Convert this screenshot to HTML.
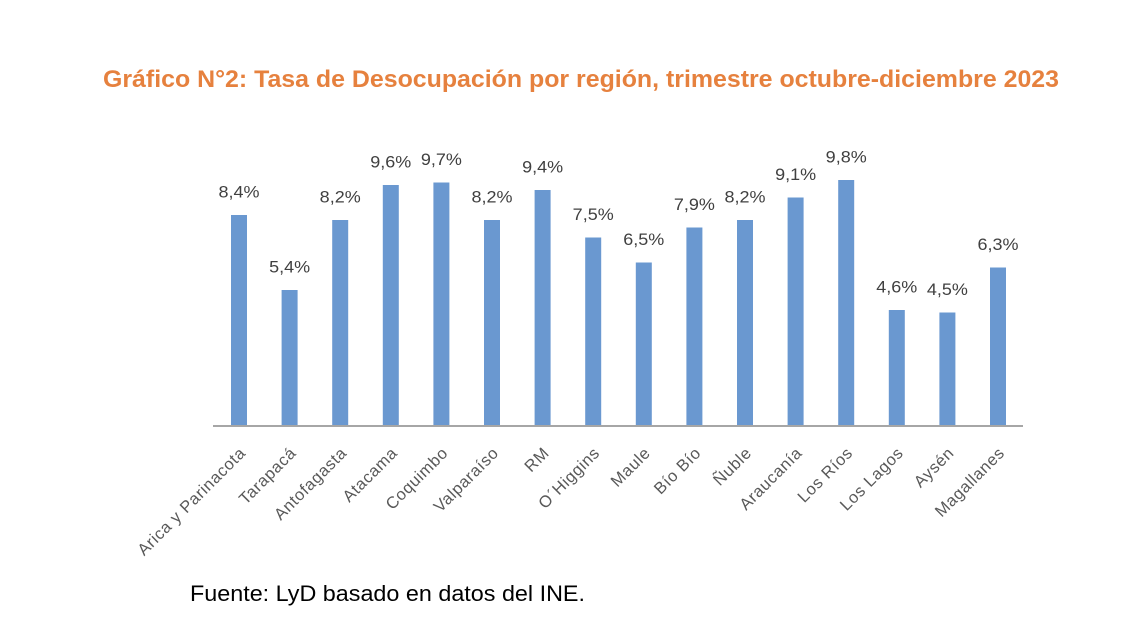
<!DOCTYPE html>
<html>
<head>
<meta charset="utf-8">
<style>
html,body{margin:0;padding:0;background:#fff;}
svg{display:block;}
</style>
</head>
<body>
<svg width="1146" height="622" viewBox="0 0 1146 622" xmlns="http://www.w3.org/2000/svg">
<rect width="1146" height="622" fill="#ffffff"/>
<text x="103" y="87" font-family="Liberation Sans, sans-serif" font-weight="bold" font-size="24" fill="#E6813E" textLength="956" lengthAdjust="spacingAndGlyphs">Gráfico N°2: Tasa de Desocupación por región, trimestre octubre-diciembre 2023</text>

<g fill="#6A98D0">
<rect x="231" y="215" width="16" height="210"/>
<rect x="281.6" y="290" width="16" height="135"/>
<rect x="332.2" y="220" width="16" height="205"/>
<rect x="382.8" y="185" width="16" height="240"/>
<rect x="433.4" y="182.5" width="16" height="242.5"/>
<rect x="484" y="220" width="16" height="205"/>
<rect x="534.6" y="190" width="16" height="235"/>
<rect x="585.2" y="237.5" width="16" height="187.5"/>
<rect x="635.8" y="262.5" width="16" height="162.5"/>
<rect x="686.4" y="227.5" width="16" height="197.5"/>
<rect x="737" y="220" width="16" height="205"/>
<rect x="787.6" y="197.5" width="16" height="227.5"/>
<rect x="838.2" y="180" width="16" height="245"/>
<rect x="888.8" y="310" width="16" height="115"/>
<rect x="939.4" y="312.5" width="16" height="112.5"/>
<rect x="990" y="267.5" width="16" height="157.5"/>
</g>

<rect x="213" y="425" width="810" height="2" fill="#A6A6A6"/>

<g font-family="Liberation Sans, sans-serif" font-size="16.5" fill="#404040" text-anchor="middle">
<text x="239" y="197.5" textLength="41" lengthAdjust="spacingAndGlyphs">8,4%</text>
<text x="289.6" y="272.5" textLength="41" lengthAdjust="spacingAndGlyphs">5,4%</text>
<text x="340.2" y="202.5" textLength="41" lengthAdjust="spacingAndGlyphs">8,2%</text>
<text x="390.8" y="167.5" textLength="41" lengthAdjust="spacingAndGlyphs">9,6%</text>
<text x="441.4" y="165" textLength="41" lengthAdjust="spacingAndGlyphs">9,7%</text>
<text x="492" y="202.5" textLength="41" lengthAdjust="spacingAndGlyphs">8,2%</text>
<text x="542.6" y="172.5" textLength="41" lengthAdjust="spacingAndGlyphs">9,4%</text>
<text x="593.2" y="220" textLength="41" lengthAdjust="spacingAndGlyphs">7,5%</text>
<text x="643.8" y="245" textLength="41" lengthAdjust="spacingAndGlyphs">6,5%</text>
<text x="694.4" y="210" textLength="41" lengthAdjust="spacingAndGlyphs">7,9%</text>
<text x="745" y="202.5" textLength="41" lengthAdjust="spacingAndGlyphs">8,2%</text>
<text x="795.6" y="180" textLength="41" lengthAdjust="spacingAndGlyphs">9,1%</text>
<text x="846.2" y="162.5" textLength="41" lengthAdjust="spacingAndGlyphs">9,8%</text>
<text x="896.8" y="292.5" textLength="41" lengthAdjust="spacingAndGlyphs">4,6%</text>
<text x="947.4" y="295" textLength="41" lengthAdjust="spacingAndGlyphs">4,5%</text>
<text x="998" y="250" textLength="41" lengthAdjust="spacingAndGlyphs">6,3%</text>
</g>

<g font-family="Liberation Sans, sans-serif" font-size="16.5" fill="#595959" text-anchor="end" letter-spacing="0.6">
<text transform="translate(246.5,454) rotate(-45)">Arica y Parinacota</text>
<text transform="translate(297.1,454) rotate(-45)">Tarapacá</text>
<text transform="translate(347.7,454) rotate(-45)">Antofagasta</text>
<text transform="translate(398.3,454) rotate(-45)">Atacama</text>
<text transform="translate(448.9,454) rotate(-45)">Coquimbo</text>
<text transform="translate(499.5,454) rotate(-45)">Valparaíso</text>
<text transform="translate(550.1,454) rotate(-45)">RM</text>
<text transform="translate(600.7,454) rotate(-45)">O´Higgins</text>
<text transform="translate(651.3,454) rotate(-45)">Maule</text>
<text transform="translate(701.9,454) rotate(-45)">Bío Bío</text>
<text transform="translate(752.5,454) rotate(-45)">Ñuble</text>
<text transform="translate(803.1,454) rotate(-45)">Araucanía</text>
<text transform="translate(853.7,454) rotate(-45)">Los Ríos</text>
<text transform="translate(904.3,454) rotate(-45)">Los Lagos</text>
<text transform="translate(954.9,454) rotate(-45)">Aysén</text>
<text transform="translate(1005.5,454) rotate(-45)">Magallanes</text>
</g>

<text x="190" y="601" font-family="Liberation Sans, sans-serif" font-size="22" fill="#000000" textLength="395" lengthAdjust="spacingAndGlyphs">Fuente: LyD basado en datos del INE.</text>
</svg>
</body>
</html>
